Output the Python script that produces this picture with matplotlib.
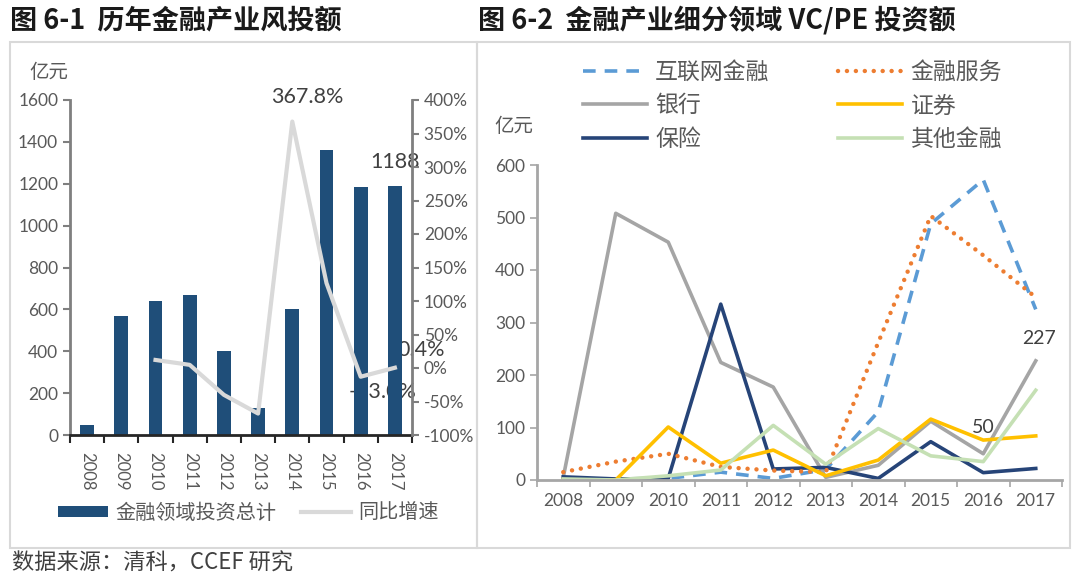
import numpy as np
import matplotlib
matplotlib.use("Agg")
import matplotlib.pyplot as plt
from matplotlib.patches import Rectangle
from matplotlib.ticker import FuncFormatter

plt.rcParams['font.family'] = ['Noto Sans CJK SC', 'DejaVu Sans']

# data
years = ['2008', '2009', '2010', '2011', '2012', '2013', '2014', '2015', '2016', '2017']
total = [50, 570, 638, 668, 400, 128, 600, 1360, 1183, 1188]
growth = [np.nan, np.nan, 12.0, 4.7, -40.1, -68.0, 367.8, 126.7, -13.0, 0.4]

internet = [0, 0, 3, 15, 3, 20, 130, 488, 572, 325]
fin_service = [15, 35, 50, 25, 18, 15, 262, 503, 428, 348]
bank = [5, 508, 453, 224, 177, 5, 28, 112, 50, 227]
securities = [0, 0, 101, 32, 57, 8, 38, 116, 76, 84]
insurance = [6, 2, 3, 335, 21, 24, 3, 73, 14, 22]
other = [2, 0, 8, 19, 104, 30, 98, 46, 35, 171]

W, H = 1080, 581
fig = plt.figure(figsize=(W / 100, H / 100), dpi=100)
fx = lambda x: x / W
fy = lambda y: 1 - y / H

TXT = '#595959'
NUM = 'Lato'

# panel frames
for x0, x1 in [(10, 477), (477, 1070)]:
    fig.patches.append(Rectangle((fx(x0), fy(548)), fx(x1) - fx(x0), fy(42) - fy(548),
                                 transform=fig.transFigure, fill=False,
                                 edgecolor='#D9D9D9', lw=1.5))

# titles
fig.text(fx(10), fy(20), '图 6-1  历年金融产业风投额', fontsize=19.5, fontweight='bold',
         color='#1a1a1a', va='center', ha='left')
fig.text(fx(478), fy(20), '图 6-2  金融产业细分领域 VC/PE 投资额', fontsize=19.5, fontweight='bold',
         color='#1a1a1a', va='center', ha='left')
fig.text(fx(12), fy(563), '数据来源：清科，CCEF 研究', fontsize=16, color='#404040',
         va='center', ha='left')

# ---------- left chart ----------
x = np.arange(len(years))
ax1 = fig.add_axes([fx(70), fy(435), fx(412) - fx(70), fy(100) - fy(435)])
bars = ax1.bar(x, total, width=0.4, color='#1F4E79', label='金融领域投资总计', zorder=2)
ax1.set_xlim(-0.5, 9.5)
ax1.set_ylim(0, 1600)
ax1.set_yticks(range(0, 1601, 200))
ax1.set_xticks(x)
ax1.set_xticklabels(years, rotation=-90, fontsize=12, color=TXT, family=[NUM])
ax1.set_xticks(np.arange(-0.5, 10, 1), minor=True)
ax1.tick_params(axis='x', which='major', length=0, pad=12)
ax1.tick_params(axis='x', which='minor', length=6, width=1.5, color='#262626', direction='out')
ax1.tick_params(axis='y', length=5, width=1.5, color='#7F7F7F', labelsize=12.5, labelcolor=TXT)
for lab in ax1.get_yticklabels():
    lab.set_family([NUM])
for s in ['top', 'right']:
    ax1.spines[s].set_visible(False)
ax1.spines['left'].set_color('#7F7F7F')
ax1.spines['left'].set_linewidth(2)
ax1.spines['bottom'].set_color('#262626')
ax1.spines['bottom'].set_linewidth(2)
ax1.set_facecolor('none')

ax2 = ax1.twinx()
ax2.plot(x, growth, color='#D9D9D9', lw=3, label='同比增速')
ax2.set_ylim(-100, 400)
ax2.set_yticks(range(-100, 401, 50))
ax2.yaxis.set_major_formatter(FuncFormatter(lambda v, p: f'{v:.0f}%'))
ax2.tick_params(axis='y', length=5, width=1.5, color='#7F7F7F', labelsize=12.5, labelcolor=TXT)
for lab in ax2.get_yticklabels():
    lab.set_family([NUM])
for s in ['top', 'left', 'bottom']:
    ax2.spines[s].set_visible(False)
ax2.spines['right'].set_color('#7F7F7F')
ax2.spines['right'].set_linewidth(2)

fig.text(fx(49), fy(72), '亿元', fontsize=14, color=TXT, ha='center', va='center')

lab_kw = dict(fontsize=15.5, color='#404040', family=[NUM])
ax2.annotate('367.8%', (6, growth[6]), xytext=(15, 25), textcoords='offset pixels',
             ha='center', va='center', **lab_kw)
# these two sit behind the bars, as in the source chart
ax1.annotate('-13.0%', (8, growth[8]), xycoords=ax2.transData, xytext=(22, -15),
             textcoords='offset pixels', ha='center', va='center', zorder=1, **lab_kw)
ax1.annotate('0.4%', (9, growth[9]), xycoords=ax2.transData, xytext=(26, 18),
             textcoords='offset pixels', ha='center', va='center', zorder=1, **lab_kw)
ax1.annotate('1188', (9, total[9]), xytext=(0, 24), textcoords='offset pixels',
             ha='center', va='center', zorder=3, **lab_kw)

h1, l1 = ax1.get_legend_handles_labels()
h2, l2 = ax2.get_legend_handles_labels()
fig.legend(h1 + h2, l1 + l2, loc='center left', bbox_to_anchor=(fx(58), fy(513)),
           ncol=2, frameon=False, fontsize=14.5, labelcolor=TXT, handlelength=2.5,
           handleheight=0.5, handletextpad=0.35, columnspacing=1.2, borderpad=0, borderaxespad=0)

# ---------- right chart ----------
ax3 = fig.add_axes([fx(537), fy(480), fx(1062) - fx(537), fy(165) - fy(480)])
lw = 2.6
ax3.plot(x, internet, color='#5B9BD5', lw=lw, dashes=(3.5, 2.5), label='互联网金融')
ax3.plot(x, bank, color='#A5A5A5', lw=lw, label='银行')
ax3.plot(x, insurance, color='#264478', lw=lw, label='保险')
ax3.plot(x, fin_service, color='#ED7D31', lw=lw + 0.6, linestyle=(0, (0.01, 2.0)),
         dash_capstyle='round', label='金融服务')
ax3.plot(x, securities, color='#FFC000', lw=lw, label='证券')
ax3.plot(x, other, color='#C5E0B4', lw=lw, label='其他金融')
ax3.set_xlim(-0.5, 9.5)
ax3.set_ylim(0, 600)
ax3.set_yticks(range(0, 601, 100))
ax3.set_xticks(x)
ax3.set_xticklabels(years, fontsize=12.5, color=TXT, family=[NUM])
ax3.set_xticks(np.arange(-0.5, 10, 1), minor=True)
ax3.tick_params(axis='x', which='major', length=0, pad=9)
ax3.tick_params(axis='x', which='minor', length=5, width=1.2, color='#A6A6A6', direction='out')
ax3.tick_params(axis='y', length=5, width=1.2, color='#A6A6A6', labelsize=12.5, labelcolor=TXT)
for lab in ax3.get_yticklabels():
    lab.set_family([NUM])
for s in ['top', 'right']:
    ax3.spines[s].set_visible(False)
for s in ['left', 'bottom']:
    ax3.spines[s].set_color('#A6A6A6')
    ax3.spines[s].set_linewidth(2)

fig.text(fx(514), fy(127), '亿元', fontsize=14, color=TXT, ha='center', va='center')
ax3.annotate('227', (9, bank[9]), xytext=(3, 14), textcoords='offset pixels', ha='center', va='bottom',
             fontsize=14, color='#404040', family=[NUM])
ax3.annotate('50', (8, bank[8]), xytext=(0, 18), textcoords='offset pixels', ha='center', va='bottom',
             fontsize=14, color='#404040', family=[NUM])

h3, l3 = ax3.get_legend_handles_labels()
fig.legend(h3, l3, loc='upper left', bbox_to_anchor=(fx(583), fy(61)), ncol=2, frameon=False,
           fontsize=16.5, labelcolor=TXT, handlelength=2.8, handletextpad=0.35,
           columnspacing=3.0, labelspacing=0.45, borderpad=0, borderaxespad=0)

fig.savefig('out.png', dpi=100)
